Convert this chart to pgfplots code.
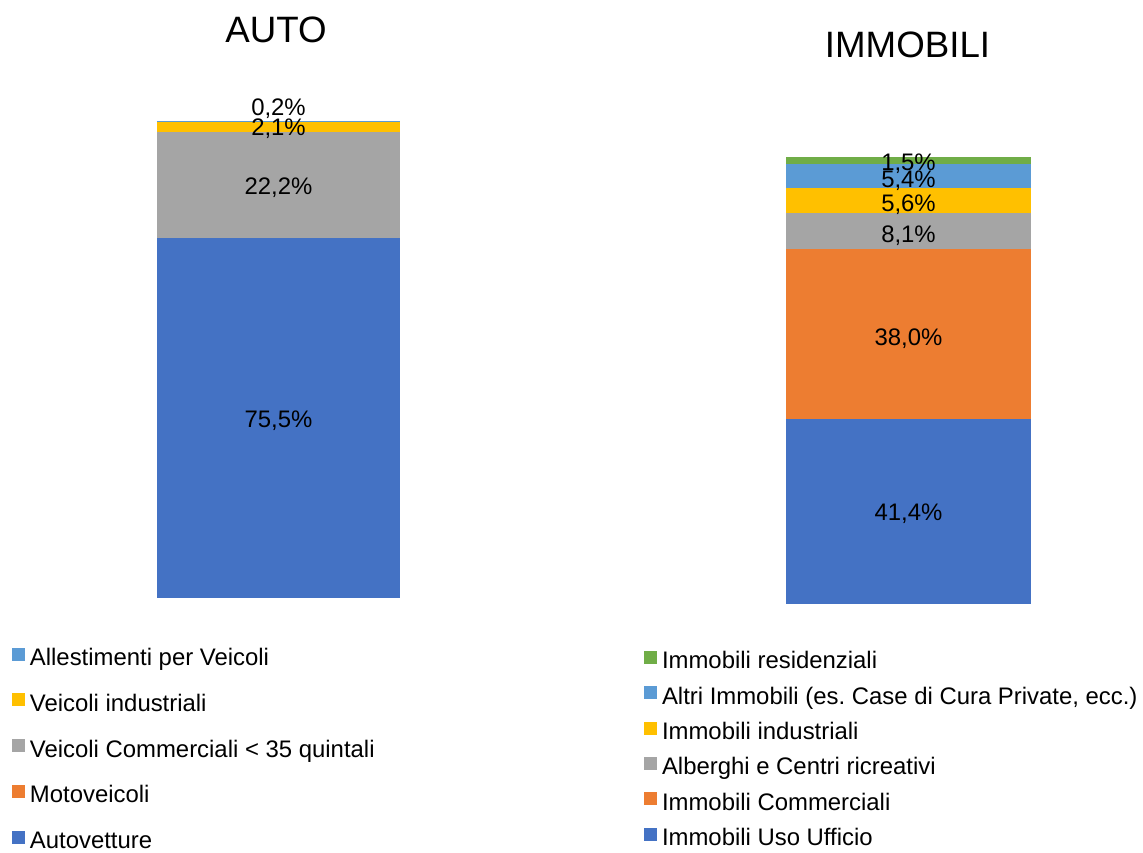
\documentclass[border=0pt]{standalone}
\usepackage{fontspec}
\setmainfont{Liberation Sans}
\usepackage{pgfplots}
\pgfplotsset{compat=1.18}
\frenchspacing
\definecolor{cBlue}{HTML}{4472C4}
\definecolor{cOrange}{HTML}{ED7D31}
\definecolor{cGray}{HTML}{A5A5A5}
\definecolor{cYellow}{HTML}{FFC000}
\definecolor{cLBlue}{HTML}{5B9BD5}
\definecolor{cGreen}{HTML}{70AD47}
\pgfplotsset{
  mystyle/.style={ybar stacked, hide axis, scale only axis, clip=false,
    xmin=-0.5, xmax=0.5, ymin=0, ymax=100,
    /pgf/number format/assume math mode=true,
    legend image code/.code={\path[##1,draw=none] (0pt,-1pt) rectangle (13pt,12pt);},
    reverse legend, legend cell align=left,
    legend style={draw=none, fill=none, inner sep=0pt, outer sep=0pt, anchor=north west,
      column sep=5pt, font=\fontsize{23.9}{26}\selectfont,
      nodes={inner sep=0pt, outer sep=0pt, text height=17pt, text depth=5pt}},
  },
  lbl/.style={nodes near coords={\pgfmathprintnumber[fixed,fixed zerofill,precision=1,use comma]{\pgfplotspointmeta}\%},
    every node near coord/.append style={font=\fontsize{23.9}{26}\selectfont, anchor=center, text=black, yshift=#1}},
}
\begin{document}
\frenchspacing
\begin{tikzpicture}
\useasboundingbox (0pt,0pt) rectangle (1143pt,852pt);
\node[anchor=base, font=\fontsize{36.7}{40}\selectfont, inner sep=0pt] at (276pt,809pt) {AUTO};
\node[anchor=base, font=\fontsize{36.7}{40}\selectfont, inner sep=0pt] at (907.5pt,794pt) {IMMOBILI};

\begin{axis}[mystyle, at={(157pt,254pt)}, anchor=south west, width=243pt, height=477pt,
  bar width=243pt,
  legend style={at={(rel axis cs:-0.597,-0.104)}, row sep=22.75pt}]
\addplot[fill=cBlue, draw=none, lbl=-3pt] coordinates {(0,75.5)};
\addlegendentry{Autovetture}
\addplot[fill=cOrange, draw=none] coordinates {(0,0)};
\addlegendentry{Motoveicoli}
\addplot[fill=cGray, draw=none, lbl=-2.5pt] coordinates {(0,22.2)};
\addlegendentry{Veicoli Commerciali < 35 quintali}
\addplot[fill=cYellow, draw=none, lbl=-2pt] coordinates {(0,2.1)};
\addlegendentry{Veicoli industriali}
\addplot[fill=cLBlue, draw=none, lbl=13pt] coordinates {(0,0.2)};
\addlegendentry{Allestimenti per Veicoli}
\end{axis}

\begin{axis}[mystyle, at={(786pt,248pt)}, anchor=south west, width=245pt, height=447pt,
  bar width=245pt,
  legend style={at={(rel axis cs:-0.5796,-0.1045)}, row sep=12.4pt}]
\addplot[fill=cBlue, draw=none, lbl=-2.5pt] coordinates {(0,41.4)};
\addlegendentry{Immobili Uso Ufficio}
\addplot[fill=cOrange, draw=none, lbl=-4.5pt] coordinates {(0,38.0)};
\addlegendentry{Immobili Commerciali}
\addplot[fill=cGray, draw=none, lbl=-4.5pt] coordinates {(0,8.1)};
\addlegendentry{Alberghi e Centri ricreativi}
\addplot[fill=cYellow, draw=none, lbl=-4.5pt] coordinates {(0,5.6)};
\addlegendentry{Immobili industriali}
\addplot[fill=cLBlue, draw=none, lbl=-5pt] coordinates {(0,5.4)};
\addlegendentry{Altri Immobili (es. Case di Cura Private, ecc.)}
\addplot[fill=cGreen, draw=none, lbl=-3pt] coordinates {(0,1.5)};
\addlegendentry{Immobili residenziali}
\end{axis}
\end{tikzpicture}
\end{document}
